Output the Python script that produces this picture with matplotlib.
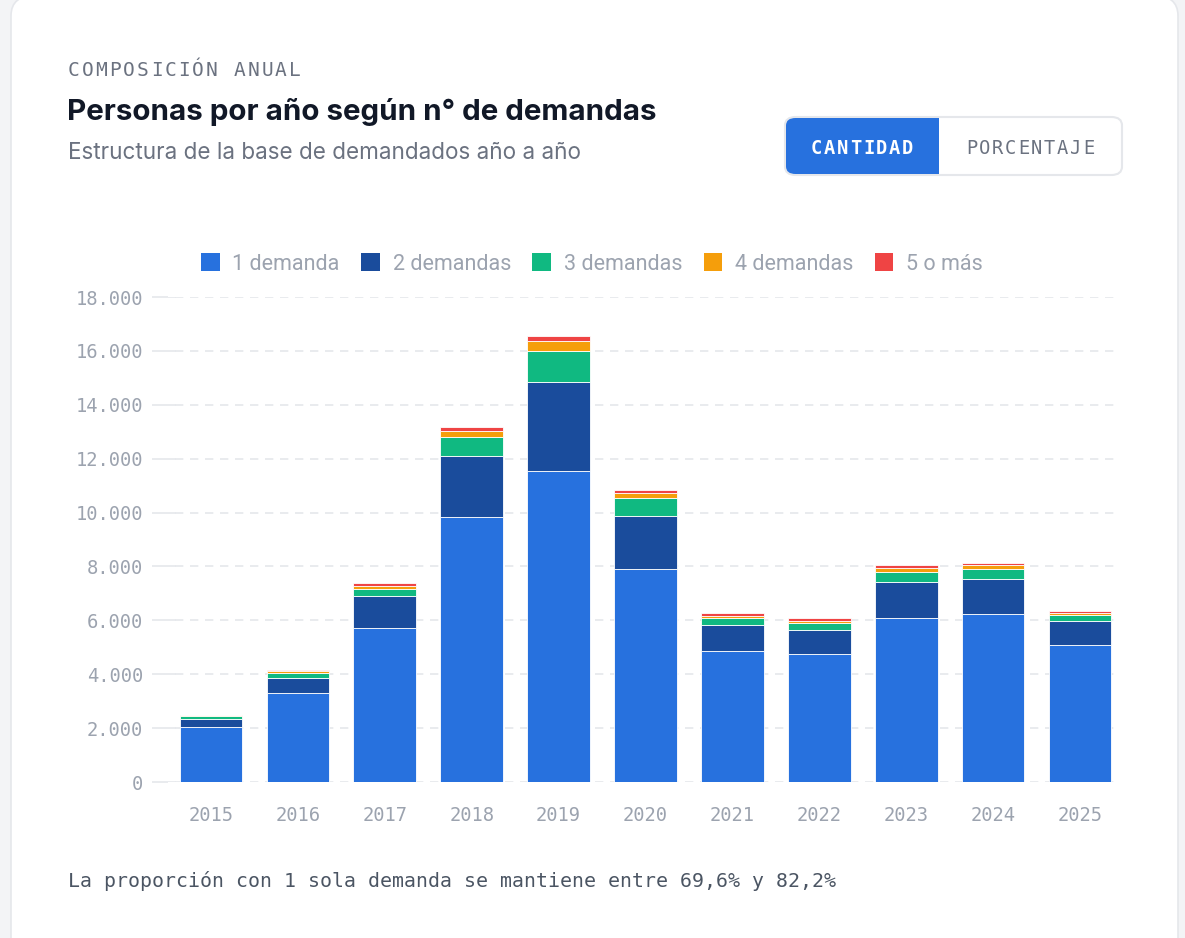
#composicion anual de demandados: personas por año segun numero de demandas

import matplotlib.pyplot as plt
from matplotlib.patches import FancyBboxPatch, Patch, Rectangle

years = ['2015', '2016', '2017', '2018', '2019', '2020', '2021', '2022', '2023', '2024', '2025']

una = [2050, 3300, 5720, 9850, 11550, 7900, 4850, 4750, 6100, 6250, 5070]
dos = [300, 570, 1180, 2250, 3300, 1960, 970, 880, 1340, 1290, 910]
tres = [90, 180, 280, 700, 1150, 680, 270, 280, 360, 360, 210]
cuatro = [35, 60, 100, 240, 370, 200, 80, 80, 150, 140, 90]
cinco = [20, 40, 100, 120, 200, 110, 90, 90, 90, 80, 70]

series_names = ['1 demanda', '2 demandas', '3 demandas', '4 demandas', '5 o más']
colors = ['#2771de', '#1a4c9c', '#10b981', '#f59e0b', '#ef4444']

y_ticks = [0, 2000, 4000, 6000, 8000, 10000, 12000, 14000, 16000, 18000]

W, H = 1185, 938
MONO = 'DejaVu Sans Mono'
SANS = 'Inter'


def fx(x):
    return x / W


def fy(y):
    return 1 - y / H


def spaced(fig, x, y, s, pitch, **kw):
    # monospace text with letter spacing, one char at a time
    for i, ch in enumerate(s):
        fig.text(fx(x + i * pitch), fy(y), ch, ha='left', va='center', family=MONO, **kw)


fig = plt.figure(figsize=(W / 100, H / 100), dpi=100)
fig.patch.set_facecolor('#f3f4f6')

# card
card = FancyBboxPatch((fx(11), fy(960)), fx(1167), 965 / H,
                      boxstyle='round,pad=0,rounding_size=0.022',
                      transform=fig.transFigure, facecolor='white',
                      edgecolor='#e5e7eb', linewidth=1.2, zorder=-5)
fig.patches.append(card)

# header
spaced(fig, 68, 70, 'COMPOSICIÓN ANUAL', 13.8, fontsize=14, color='#6b7280')
fig.text(fx(67), fy(112), 'Personas por año según n° de demandas', ha='left', va='center',
         family=SANS, fontsize=21.3, fontweight='bold', color='#111827')
fig.text(fx(68), fy(153), 'Estructura de la base de demandados año a año', ha='left', va='center',
         family=SANS, fontsize=16.2, color='#6b7280')

# toggle button
btn = FancyBboxPatch((fx(785), fy(175)), fx(337), 58 / H,
                     boxstyle='round,pad=0,rounding_size=0.009',
                     transform=fig.transFigure, facecolor='white',
                     edgecolor='#e5e7eb', linewidth=1.5)
fig.patches.append(btn)
btn_on = FancyBboxPatch((fx(786), fy(174)), fx(153), 56 / H,
                        boxstyle='round,pad=0,rounding_size=0.008',
                        transform=fig.transFigure, facecolor='#2771de', edgecolor='none')
fig.patches.append(btn_on)
fig.patches.append(Rectangle((fx(900), fy(174)), fx(39), 56 / H, transform=fig.transFigure,
                             facecolor='#2771de', edgecolor='none'))
spaced(fig, 811, 148, 'CANTIDAD', 13.0, fontsize=13.5, color='white', fontweight='bold')
spaced(fig, 966, 148, 'PORCENTAJE', 13.0, fontsize=13.5, color='#6b7280')

# chart
ax = fig.add_axes([fx(167.5), fy(782), fx(956), 485 / H])
ax.set_zorder(5)
x = range(len(years))
bottom = [0] * len(years)
for vals, name, c in zip([una, dos, tres, cuatro, cinco], series_names, colors):
    ax.bar(x, vals, width=0.72, bottom=bottom, color=c, edgecolor='white', linewidth=0.6,
           label=name, zorder=3)
    bottom = [b + v for b, v in zip(bottom, vals)]

ax.set_xlim(-0.5, len(years) - 0.5)
ax.set_ylim(0, 18000)
for v in y_ticks:
    ax.axhline(v, xmin=0, xmax=0.008, color='#e5e7eb', lw=1.2, zorder=1)
    ax.axhline(v, xmin=0.008, xmax=0.996, color='#e5e7eb', lw=1.2, ls=(0, (5, 4)), zorder=1)

ax.set_xticks(list(x))
ax.set_xticklabels(years)
ax.set_yticks(y_ticks)
ax.set_yticklabels([f'{v:,}'.replace(',', '.') for v in y_ticks])
ax.tick_params(axis='x', length=0, pad=17, labelsize=13.5, labelcolor='#9ca3af')
ax.tick_params(axis='y', length=11.5, width=1.2, color='#e5e7eb', pad=6, labelsize=13.5,
               labelcolor='#9ca3af')
for lab in ax.get_xticklabels() + ax.get_yticklabels():
    lab.set_family(MONO)
for s in ax.spines.values():
    s.set_visible(False)
ax.set_facecolor('none')

handles = [Patch(facecolor=c, edgecolor='none') for c in colors]
fig.legend(handles, series_names, loc='center', bbox_to_anchor=(fx(592), fy(264)), ncol=5,
           frameon=False, handlelength=0.85, handleheight=0.85, handletextpad=0.6,
           columnspacing=1.0, prop={'family': 'Roboto', 'size': 15.5}, labelcolor='#9ca3af')

# footer
fig.text(fx(68), fy(881), 'La proporción con 1 sola demanda se mantiene entre 69,6% y 82,2%',
         ha='left', va='center', family=MONO, fontsize=14.3, color='#4b5563')

plt.savefig('out.png', dpi=100, facecolor=fig.get_facecolor())
